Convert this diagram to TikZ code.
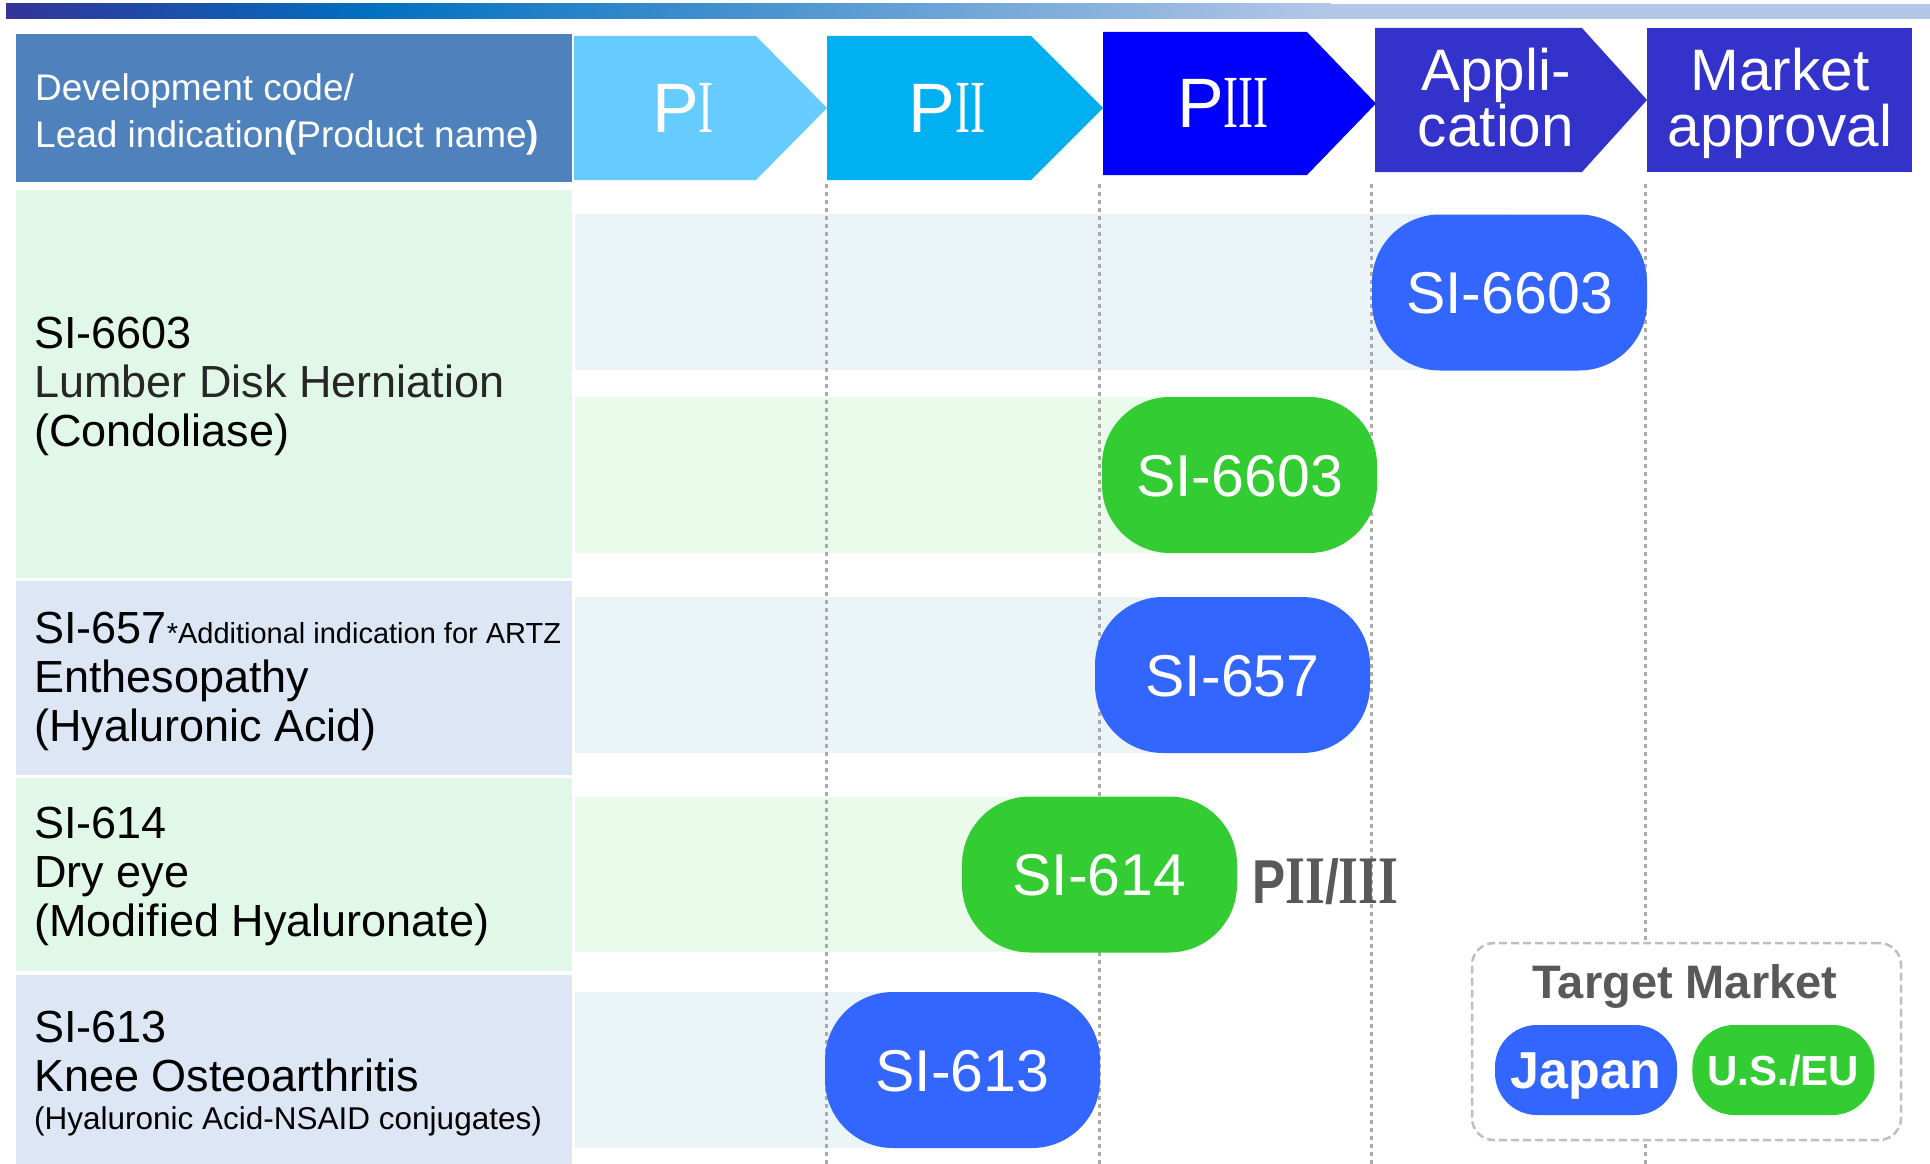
\documentclass[tikz,border=0pt]{standalone}
\usepackage{fontspec}
\setmainfont{Liberation Sans}
\newfontfamily\numfont[FakeStretch=0.6]{Liberation Serif}
\newfontfamily\numwide[FakeStretch=0.75]{Liberation Serif}
\newfontfamily\narrowsans[FakeStretch=0.8]{Liberation Sans}
\usetikzlibrary{positioning}

\definecolor{hdrblue}{HTML}{4F81BD}
\definecolor{phaseI}{HTML}{66CCFF}
\definecolor{phaseII}{HTML}{00B0F0}
\definecolor{phaseIII}{HTML}{0000FF}
\definecolor{phaseapp}{HTML}{3333CC}
\definecolor{jpblue}{HTML}{3366FF}
\definecolor{usgreen}{HTML}{33CC33}
\definecolor{rowgreen}{HTML}{E1F7E8}
\definecolor{rowblue}{HTML}{DCE6F4}
\definecolor{bandblue}{HTML}{EBF5F8}
\definecolor{bandgreen}{HTML}{EBFBEB}
\definecolor{gridgray}{HTML}{ABABAB}
\definecolor{legendgray}{HTML}{BFBFBF}
\definecolor{labelgray}{HTML}{595959}
\definecolor{textdark}{HTML}{262626}
\definecolor{barA}{HTML}{333399}
\definecolor{barB}{HTML}{0070C0}
\definecolor{barC}{HTML}{B4C7E7}

\begin{document}
\begin{tikzpicture}[
  x=1pt, y=-1pt,
  hdrtext/.style={anchor=base west, align=left, inner sep=0pt, text=white,
                  font=\fontsize{37}{47}\selectfont},
  rowtext/.style={anchor=base west, align=left, inner sep=0pt,
                  font=\fontsize{45}{49}\selectfont},
  phasetext/.style={anchor=base, inner sep=0pt, text=white,
                    font=\fontsize{70}{70}\selectfont},
  steptext/.style={anchor=base, align=center, inner sep=0pt, text=white,
                   font=\fontsize{58.5}{56}\selectfont},
  pill/.style={rectangle, rounded corners=68pt, minimum width=275pt,
               minimum height=156pt, inner sep=0pt, text=white,
               text height=42pt, text depth=0pt, font=\fontsize{59}{59}\selectfont},
  jp/.style={pill, fill=jpblue},
  us/.style={pill, fill=usgreen},
  keypill/.style={rectangle, rounded corners=42pt, minimum width=182pt,
                  minimum height=90pt, inner sep=0pt, text=white},
  gridline/.style={gridgray, line width=3pt, dash pattern=on 4pt off 4pt},
]
  \useasboundingbox (0,0) rectangle (1930,1164);
  \fill[white] (0,0) rectangle (1930,1164);

  \shade[left color=barA, right color=barB] (6,4) rectangle (371,19);
  \shade[left color=barB, right color=barC] (370,4) rectangle (1331,19);
  \fill[barC] (1330,4) rectangle (1930,19);

  \fill[hdrblue] (16,34) rectangle (572,182);
  \fill[phaseI] (574,36) -- (756,36) -- (827,108) -- (756,180) -- (574,180) -- cycle;
  \fill[phaseII] (827,36) -- (1031,36) -- (1103,108) -- (1031,180) -- (827,180) -- cycle;
  \fill[phaseIII] (1103,32) -- (1307,32) -- (1376,103.5) -- (1307,175) -- (1103,175) -- cycle;
  \fill[phaseapp] (1375,28) -- (1582,28) -- (1647,100) -- (1582,172) -- (1375,172) -- cycle;
  \fill[phaseapp] (1647,28) rectangle (1912,172);

  \node[hdrtext] (hdr) at (35,147) {Development code/\\Lead indication{\bfseries(}Product name{\bfseries)}};
  \node[phasetext] (pI) at (683,132) {P{\numfont\fontsize{75}{75}\selectfont I}};
  \node[phasetext] (pII) at (947,132) {P{\numfont\fontsize{75}{75}\selectfont II}};
  \node[phasetext] (pIII) at (1223,127) {P{\numfont\fontsize{75}{75}\selectfont III}};
  \node[steptext] (appl) at (1496,146) {Appli-\\cation};
  \node[steptext] (mkt) at (1780,146) {Market\\approval};

  \fill[rowgreen] (16,190) rectangle (572,578);
  \fill[rowblue] (16,581) rectangle (572,775);
  \fill[rowgreen] (16,778) rectangle (572,971);
  \fill[rowblue] (16,975) rectangle (572,1164);

  \node[rowtext] (row1) at (34,446) {SI-6603\\{\color{textdark}Lumber Disk Herniation}\\(Condoliase)};
  \node[rowtext] (row2) at (34,741) {SI-657{\fontsize{29}{29}\selectfont *Additional indication for ARTZ}\\Enthesopathy\\(Hyaluronic Acid)};
  \node[rowtext] (row3) at (34,936) {SI-614\\Dry eye\\(Modified Hyaluronate)};
  \node[rowtext] (row4) at (34,1129) {SI-613\\Knee Osteoarthritis\\[-11pt]{\fontsize{31.5}{36}\selectfont (Hyaluronic Acid-NSAID conjugates)}};

  \fill[bandblue] (575,214) rectangle (1509,370);
  \fill[bandgreen] (575,397) rectangle (1240,553);
  \fill[bandblue] (575,597) rectangle (1233,753);
  \fill[bandgreen] (575,797) rectangle (1100,952);
  \fill[bandblue] (575,992) rectangle (963,1148);

  \draw[gridline] (826,184) -- (826,1164);
  \draw[gridline] (1099,184) -- (1099,1164);
  \draw[gridline] (1371,184) -- (1371,1164);
  \draw[gridline] (1645,184) -- (1645,1164);

  \node[jp] (si6603jp) at (1509.5,292.5) {SI-6603};
  \node[us] (si6603us) at (1239.5,475) {SI-6603};
  \node[jp] (si657) at (1232.5,675) {SI-657};
  \node[us] (si614) at (1099.5,874.5) {SI-614};
  \node[jp] (si613) at (962.5,1070) {SI-613};

  \node[right=15pt of si614, yshift=-6pt, inner sep=0pt, text=labelgray,
        text height=45pt, text depth=0pt,
        font=\fontsize{62}{62}\narrowsans\bfseries] (phase)
    {P{\numwide\bfseries\fontsize{68}{68}\selectfont II}/{\numwide\bfseries\fontsize{68}{68}\selectfont III}};

  \node[draw=legendgray, line width=2.5pt, dash pattern=on 8pt off 4pt, fill=white,
        rounded corners=22pt, minimum width=429pt, minimum height=197pt] (legend) at (1686.5,1041.5) {};
  \node[anchor=base, inner sep=0pt, text=labelgray, font=\fontsize{47}{47}\selectfont\bfseries] (legendtitle) at (1685,998) {Target Market};
  \node[keypill, fill=jpblue, text height=37pt, text depth=0pt, font=\fontsize{52}{52}\selectfont\bfseries] (japan) at (1586,1070) {Japan};
  \node[keypill, fill=usgreen, right=15pt of japan, text height=30pt, text depth=0pt,
        font=\fontsize{42}{42}\selectfont\bfseries] (useu) {U.S./EU};
\end{tikzpicture}
\end{document}
